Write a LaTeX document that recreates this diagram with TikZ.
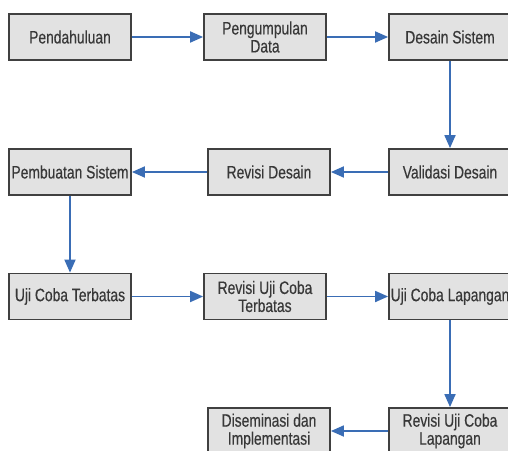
\documentclass[tikz,border=0pt]{standalone}
\usepackage{fontspec}
\setmainfont{Liberation Sans}[FakeStretch=0.77,FakeBold=0.4]
\usetikzlibrary{arrows.meta}
\definecolor{boxfill}{HTML}{E2E2E2}
\definecolor{boxline}{HTML}{404040}
\definecolor{arrowblue}{HTML}{3A6DB5}
\begin{document}
\begin{tikzpicture}[x=1pt,y=-1pt,
  stepbox/.style={draw=boxline,line width=1.8pt,fill=boxfill,minimum width=122pt,minimum height=46pt,
    inner sep=0pt,align=center,font=\fontsize{18}{18}\selectfont,text=black!78},
  flow/.style={draw=arrowblue,line width=1.8pt,-{Triangle[length=13pt,width=11pt]}}]
\useasboundingbox (0,0) rectangle (508,450);
\clip (0,0) rectangle (508,450);
\node[stepbox] (a) at (70,37) {Pendahuluan};
\node[stepbox] (b) at (265,37) {Pengumpulan\\Data};
\node[stepbox] (c) at (450,37) {Desain Sistem};
\node[stepbox] (d) at (450,172) {Validasi Desain};
\node[stepbox] (e) at (269,172) {Revisi Desain};
\node[stepbox] (f) at (70,172) {Pembuatan Sistem};
\node[stepbox] (g) at (70,296.5) {Uji Coba Terbatas};
\node[stepbox] (h) at (265,296.5) {Revisi Uji Coba\\Terbatas};
\node[stepbox] (i) at (450,296.5) {Uji Coba Lapangan};
\node[stepbox] (j) at (450,431) {Revisi Uji Coba\\Lapangan};
\node[stepbox] (k) at (269,431) {Diseminasi dan\\Implementasi};
\draw[flow] (a.east) -- (b.west);
\draw[flow] (b.east) -- (c.west);
\draw[flow] (c.south) -- (d.north);
\draw[flow] (d.west) -- (e.east);
\draw[flow] (e.west) -- (f.east);
\draw[flow] (f.south) -- (g.north);
\draw[flow] (g.east) -- (h.west);
\draw[flow] (h.east) -- (i.west);
\draw[flow] (i.south) -- (j.north);
\draw[flow] (j.west) -- (k.east);
\end{tikzpicture}
\end{document}
